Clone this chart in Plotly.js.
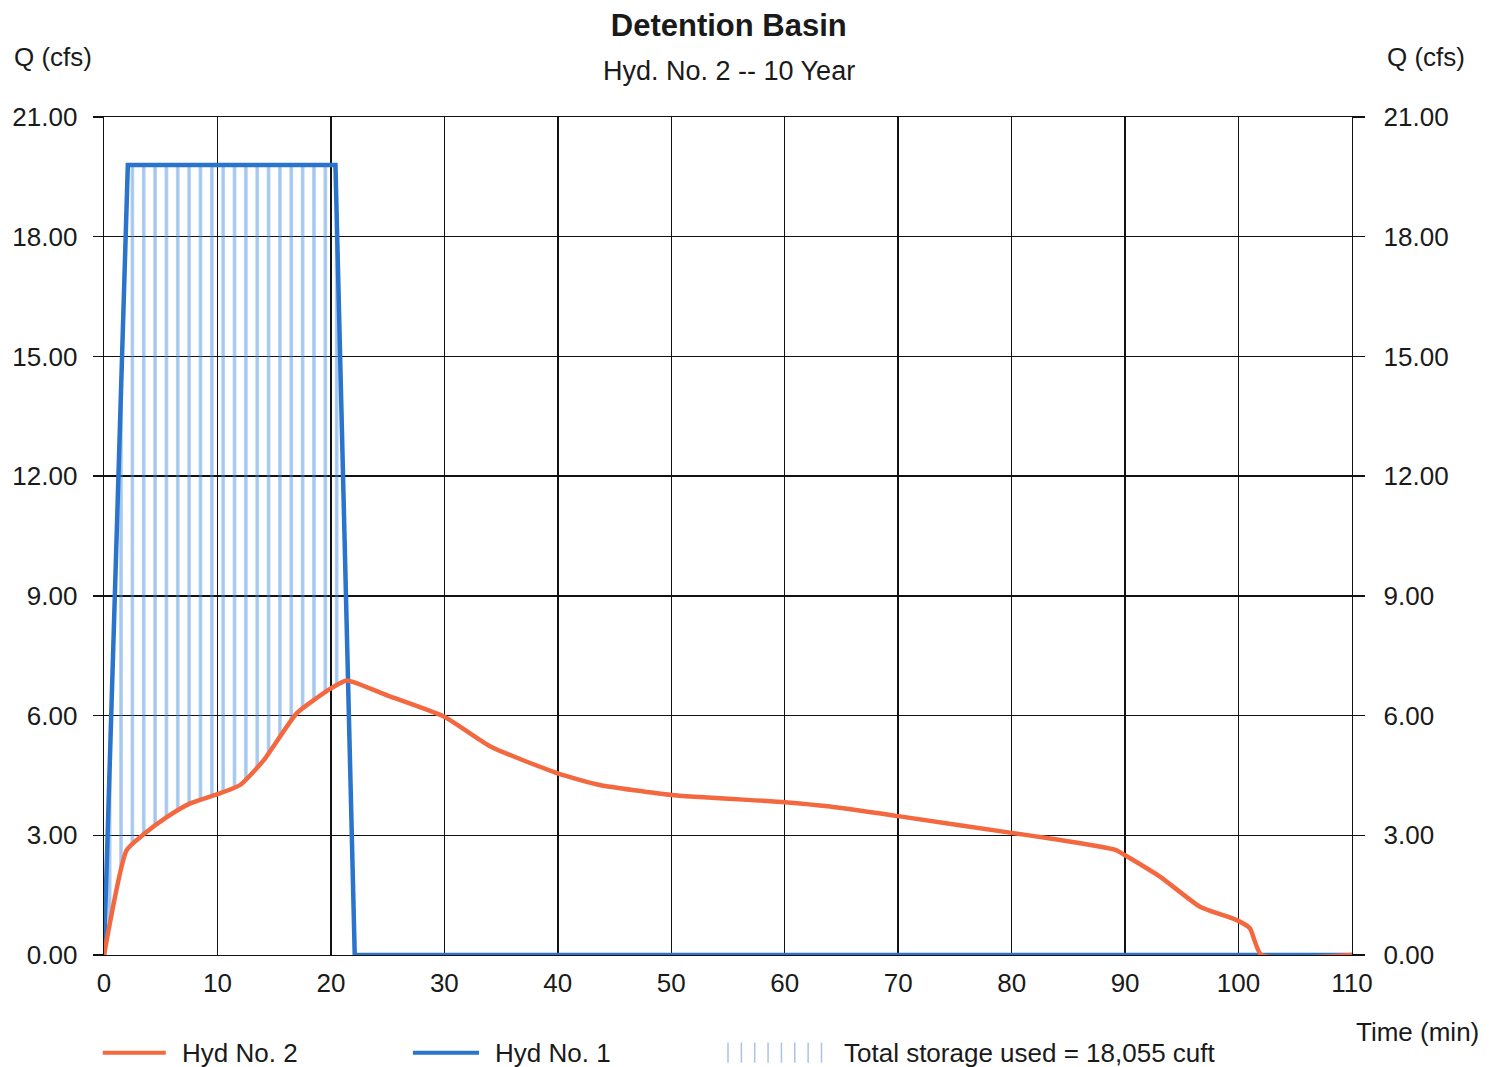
<!DOCTYPE html>
<html>
<head>
<meta charset="utf-8">
<script src="https://cdn.plot.ly/plotly-3.0.1.min.js"></script>
<style>
html,body{margin:0;padding:0;background:#fff;}
#chart{width:1498px;height:1067px;}
</style>
</head>
<body>
<div id="chart"></div>
<script>
// ---- Data ----
const hyd1Time = [0, 2.1, 20.4, 22.1, 110];
const hyd1Flow = [0, 19.8, 19.8, 0, 0];

const hyd2Time = [0, 2.0, 3.6, 5.5, 7.6, 10.0, 12.0, 14.1, 17.0, 20.0, 21.4, 25.0, 30.0, 34.1, 40.0, 43.7, 50.0, 60.0, 64.0, 70.0, 80.0, 83.4, 89.2, 90.0, 93.1, 96.6, 99.8, 101.0, 102.0, 110];
const hyd2Flow = [0, 2.63, 3.05, 3.45, 3.80, 4.03, 4.26, 4.89, 6.06, 6.68, 6.88, 6.50, 5.97, 5.22, 4.55, 4.26, 4.01, 3.83, 3.72, 3.48, 3.06, 2.92, 2.63, 2.50, 1.96, 1.21, 0.88, 0.67, 0.0, 0.0];

const storageLabel = "Total storage used = 18,055 cuft";
const xTicks = [0, 10, 20, 30, 40, 50, 60, 70, 80, 90, 100, 110];
const yTicks = [0, 3, 6, 9, 12, 15, 18, 21];

// ---- Storage region polygon: Hyd No.1 above Hyd No.2 up to the Hyd No.2 peak ----
let peakIdx = 0;
hyd2Flow.forEach((v, i) => { if (v > hyd2Flow[peakIdx]) peakIdx = i; });
const peakT = hyd2Time[peakIdx];
const polyX = [], polyY = [];
hyd1Time.forEach((t, i) => { if ((t < peakT && hyd1Flow[i] > 0) || i === 0) { polyX.push(t); polyY.push(hyd1Flow[i]); } });
for (let i = peakIdx; i >= 0; i--) { polyX.push(hyd2Time[i]); polyY.push(hyd2Flow[i]); }

const ORANGE = '#f4683f';
const BLUE = '#2b74cc';
const HATCH = '#4a8fe2';
const FONT = 'Liberation Sans, Arial, sans-serif';
const TXT = '#1a1a1a';
const FS = 26;

const traces = [
  {
    x: polyX, y: polyY, type: 'scatter', mode: 'none',
    fill: 'toself', fillcolor: 'rgba(0,0,0,0)',
    fillpattern: {shape: '|', size: 11.35, solidity: 0.3, fgcolor: HATCH, bgcolor: 'rgba(0,0,0,0)', fillmode: 'overlay'},
    hoverinfo: 'skip', showlegend: false
  },
  {
    x: hyd1Time, y: hyd1Flow, type: 'scatter', mode: 'lines',
    line: {color: BLUE, width: 4.5}, name: 'Hyd No. 1', showlegend: false
  },
  {
    x: hyd2Time, y: hyd2Flow, type: 'scatter', mode: 'lines',
    line: {color: ORANGE, width: 4.5, shape: 'spline', smoothing: 0.5}, name: 'Hyd No. 2', showlegend: false
  },
  { // invisible trace to enable the right axis
    x: [0], y: [0], yaxis: 'y2', type: 'scatter', mode: 'none', showlegend: false, hoverinfo: 'skip'
  }
];

// ---- Legend (drawn as shapes + annotations) ----
const legY = -0.1165;
const shapes = [
  {type: 'line', xref: 'paper', yref: 'paper', x0: -0.001, x1: 0.0495, y0: legY, y1: legY, line: {color: ORANGE, width: 4}},
  {type: 'line', xref: 'paper', yref: 'paper', x0: 0.2475, x1: 0.3005, y0: legY, y1: legY, line: {color: BLUE, width: 4}}
];
for (let k = 0; k < 8; k++) {
  const xp = 0.5 + k * 0.0107;
  shapes.push({type: 'line', xref: 'paper', yref: 'paper', x0: xp, x1: xp, y0: legY - 0.012, y1: legY + 0.012, line: {color: '#a9c4e4', width: 1.5}});
}

const annotations = [
  {text: 'Q (cfs)', xref: 'paper', yref: 'paper', x: -0.0735, y: 1.0716, xanchor: 'left', yanchor: 'middle', showarrow: false, font: {family: FONT, size: FS, color: TXT}},
  {text: 'Q (cfs)', xref: 'paper', yref: 'paper', x: 1.0265, y: 1.0716, xanchor: 'left', yanchor: 'middle', showarrow: false, font: {family: FONT, size: FS, color: TXT}},
  {text: 'Hyd. No. 2 -- 10 Year', xref: 'paper', yref: 'paper', x: 0.5005, y: 1.0549, xanchor: 'center', yanchor: 'middle', showarrow: false, font: {family: FONT, size: 27, color: TXT}},
  {text: 'Time (min)', xref: 'paper', yref: 'paper', x: 1.1035, y: -0.0919, xanchor: 'right', yanchor: 'middle', showarrow: false, font: {family: FONT, size: FS, color: TXT}},
  {text: 'Hyd No. 2', xref: 'paper', yref: 'paper', x: 0.0605, y: legY, xanchor: 'left', yanchor: 'middle', showarrow: false, font: {family: FONT, size: FS, color: TXT}},
  {text: 'Hyd No. 1', xref: 'paper', yref: 'paper', x: 0.3115, y: legY, xanchor: 'left', yanchor: 'middle', showarrow: false, font: {family: FONT, size: FS, color: TXT}},
  {text: storageLabel, xref: 'paper', yref: 'paper', x: 0.5915, y: legY, xanchor: 'left', yanchor: 'middle', showarrow: false, font: {family: FONT, size: FS, color: TXT}}
];

const axisCommon = {
  showgrid: true, gridcolor: '#111', gridwidth: 1.4,
  zeroline: false, showline: true, linecolor: '#111', linewidth: 1.4, mirror: false,
  tickfont: {family: FONT, size: FS, color: TXT}
};

const layout = {
  width: 1498, height: 1067,
  margin: {l: 104, r: 146, t: 117, b: 112},
  paper_bgcolor: '#fff', plot_bgcolor: '#fff',
  showlegend: false,
  title: {text: '<b>Detention Basin</b>', x: 0.4865, xanchor: 'center', y: 0.9766, yanchor: 'middle', font: {family: FONT, size: 31, color: TXT}},
  xaxis: Object.assign({}, axisCommon, {
    range: [0, 110], tickvals: xTicks, ticktext: xTicks.map(String),
    ticks: '', ticklabelstandoff: 4, mirror: true
  }),
  yaxis: Object.assign({}, axisCommon, {
    range: [0, 21], tickvals: yTicks, tickformat: '.2f',
    ticks: 'outside', ticklen: 10, tickcolor: '#111', tickwidth: 1.4, ticklabelstandoff: 10
  }),
  yaxis2: Object.assign({}, axisCommon, {
    range: [0, 21], tickvals: yTicks, tickformat: '.2f', overlaying: 'y', side: 'right',
    showgrid: false, ticks: 'outside', ticklen: 12, tickcolor: '#111', tickwidth: 1.4, ticklabelstandoff: 13
  }),
  shapes: shapes,
  annotations: annotations
};

Plotly.newPlot('chart', traces, layout, {displayModeBar: false, staticPlot: true});
</script>
</body>
</html>
